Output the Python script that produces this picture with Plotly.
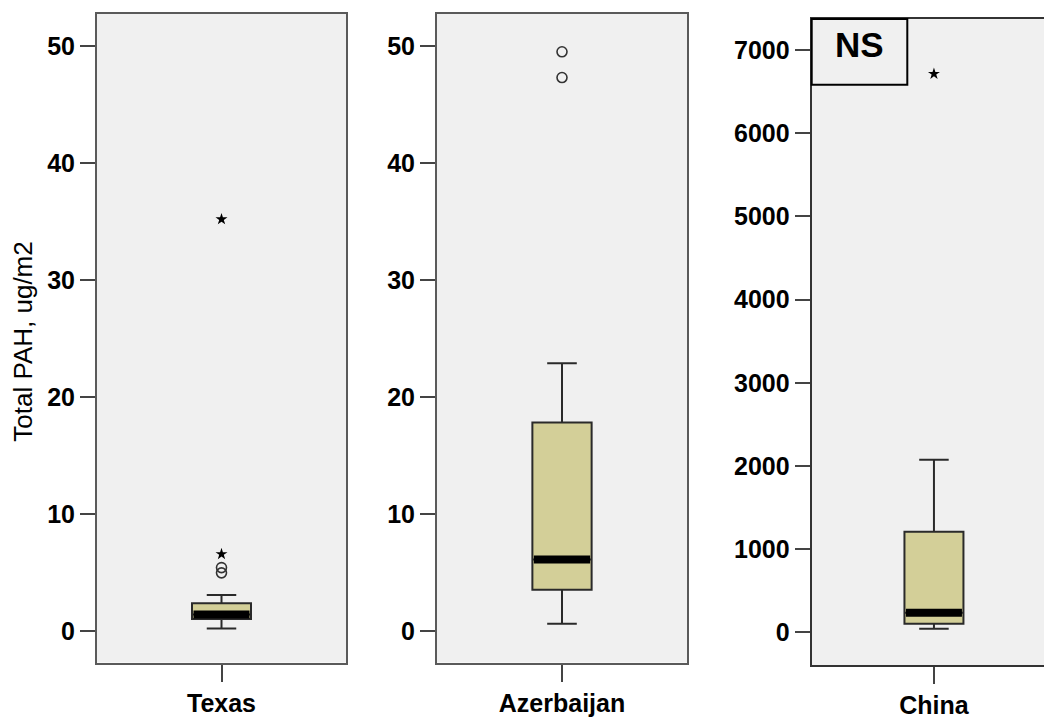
import plotly.graph_objects as go

# ---- data ----
categories = ["Texas", "Azerbaijan", "China"]
lower_whisker = [0.25, 0.65, 46]
q1_values = [1.05, 3.55, 106]
median_values = [1.45, 6.15, 237]
q3_values = [2.4, 17.85, 1211]
upper_whisker = [3.1, 22.9, 2075]
outliers_circle = [[5.0, 5.45], [47.3, 49.5], []]
outliers_star = [[6.6, 35.2], [], [6712]]
yticks_small = [0, 10, 20, 30, 40, 50]
yticks_china = [0, 1000, 2000, 3000, 4000, 5000, 6000, 7000]
y_title = "Total PAH, ug/m2"
ns_label = "NS"

# ---- styles ----
W, H = 1044, 719
FONT = "Arial, Liberation Sans, sans-serif"
BOX_FILL = "#d3cf98"
BG = "#f0f0f0"
BOX_W = 0.237
HALF = BOX_W / 2

def px_dom(a, b, total):
    return [a / total, b / total]

def ydom(top, bottom):
    return [1 - bottom / H, 1 - top / H]

panels = [
    dict(xd=px_dom(97, 346, W), yd=ydom(14, 670), xr=[-0.5, 0.5],
         yr=[-2.66, 52.74], ticks=yticks_small, mirror_y=True, border="#5a5a5a"),
    dict(xd=px_dom(437, 687, W), yd=ydom(14, 670), xr=[-0.5, 0.5],
         yr=[-2.66, 52.74], ticks=yticks_small, mirror_y=True, border="#5a5a5a"),
    dict(xd=[811.7 / W, 1.0], yd=ydom(19.3, 672.6), xr=[-0.491, 0.442],
         yr=[-392, 7370], ticks=yticks_china, mirror_y=False, border="#333333"),
]

fig = go.Figure()
layout = dict(
    width=W, height=H, margin=dict(l=0, r=0, t=0, b=0),
    paper_bgcolor="white", plot_bgcolor=BG, showlegend=False,
    font=dict(family=FONT, color="black"),
)

for i, (cat, p) in enumerate(zip(categories, panels)):
    n = "" if i == 0 else str(i + 1)
    xa, ya = "x" + n, "y" + n
    fig.add_trace(go.Box(
        x=[0], q1=[q1_values[i]], median=[median_values[i]], q3=[q3_values[i]],
        lowerfence=[lower_whisker[i]], upperfence=[upper_whisker[i]],
        width=BOX_W, whiskerwidth=0.5, fillcolor=BOX_FILL,
        line=dict(color="#2a2a2a", width=2), boxpoints=False,
        xaxis=xa, yaxis=ya, hoverinfo="skip",
    ))
    # thick median band
    fig.add_trace(go.Scatter(
        x=[-HALF + 0.006, HALF - 0.006], y=[median_values[i]] * 2, mode="lines",
        line=dict(color="black", width=8), xaxis=xa, yaxis=ya, hoverinfo="skip",
    ))
    if outliers_circle[i]:
        fig.add_trace(go.Scatter(
            x=[0] * len(outliers_circle[i]), y=outliers_circle[i], mode="markers",
            marker=dict(symbol="circle-open", size=10, color="#333333",
                        line=dict(width=1.6)),
            xaxis=xa, yaxis=ya, hoverinfo="skip",
        ))
    if outliers_star[i]:
        fig.add_trace(go.Scatter(
            x=[0] * len(outliers_star[i]), y=outliers_star[i], mode="markers",
            marker=dict(symbol="star", size=9, color="black"),
            xaxis=xa, yaxis=ya, hoverinfo="skip",
        ))

    layout["xaxis" + n] = dict(
        domain=p["xd"], range=p["xr"], anchor=ya,
        tickvals=[0], ticktext=[cat], ticks="outside", ticklen=17, tickwidth=2,
        tickcolor="#444444", showline=True, linecolor=p["border"], linewidth=2,
        mirror=True, showgrid=False, zeroline=False, fixedrange=True,
        tickfont=dict(size=25, family=FONT, color="black", weight="bold"),
    )
    layout["yaxis" + n] = dict(
        domain=p["yd"], range=p["yr"], anchor=xa,
        tickvals=p["ticks"], ticks="outside", ticklen=15, tickwidth=2,
        tickcolor="#444444", showline=True, linecolor=p["border"], linewidth=2,
        mirror=p["mirror_y"], showgrid=False, zeroline=False, fixedrange=True,
        tickfont=dict(size=25, family=FONT, color="black", weight="bold"),
    )

layout["shapes"] = [dict(
    type="rect", xref="paper", yref="paper",
    x0=811.7 / W, x1=907.3 / W, y0=1 - 85.7 / H, y1=1 - 19.3 / H,
    line=dict(color="black", width=2), fillcolor=BG, layer="above",
)]
layout["annotations"] = [
    dict(text=ns_label, xref="paper", yref="paper", x=859.5 / W, y=1 - 45 / H,
         showarrow=False, xanchor="center", yanchor="middle",
         font=dict(size=35, family=FONT, color="black", weight="bold")),
    dict(text=y_title, xref="paper", yref="paper", x=23 / W, y=1 - 345.5 / H,
         showarrow=False, textangle=-90, xanchor="center", yanchor="middle",
         font=dict(size=26, family=FONT, color="black")),
]

fig.update_layout(**layout)
fig.write_html(
    "out.html",
    config={"displayModeBar": False},
    post_script="document.body.style.margin='0';document.body.style.overflow='hidden';",
)
